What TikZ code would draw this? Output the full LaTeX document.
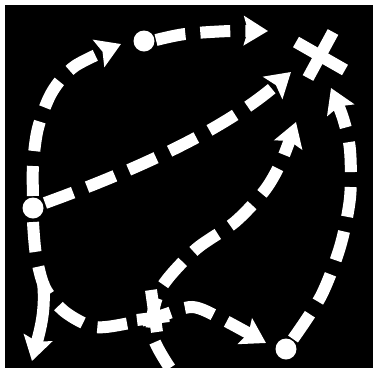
\documentclass[tikz,border=0pt]{standalone}
\usetikzlibrary{arrows.meta}
\begin{document}
\begin{tikzpicture}[x=1pt,y=-1pt,
  dline/.style={draw=white, line width=12pt, dash pattern=on 30pt off 15pt},
  sline/.style={draw=white, line width=12pt},
  tipped/.style={-{Stealth[length=24pt,width=29pt,inset=4pt]}},
  dot/.style={circle, fill=white, inner sep=0pt, minimum size=21pt},
  arm/.style={draw=white, line width=12pt}]
\useasboundingbox (0,0) rectangle (373,368);
\fill[white] (0,0) rectangle (373,368);
\fill[black] (5,5) rectangle (373,368);
% nodes
\node[dot] (t) at (144,41) {};
\node[dot] (l) at (33,208) {};
\node[dot] (b) at (286,349) {};
\coordinate (x) at (320,56);
\coordinate (c) at (155,316);
% cross marks
\draw[arm] ([shift={(-24,-14)}]x) -- ([shift={(25,14)}]x);
\draw[arm] ([shift={(13,-24)}]x) -- ([shift={(-12,22)}]x);
\draw[arm] ([shift={(-4,-26)}]c) -- ([shift={(2,16)}]c);
\draw[arm] ([shift={(-18,4)}]c) -- ([shift={(14,0)}]c);
% path A: left dot to top dot
\draw[dline,tipped] plot[smooth] coordinates {(33,196) (33,165) (38,128) (52,92) (75,66) (121,44)};
% path B: top dot to cross
\draw[dline,tipped] plot[smooth] coordinates {(156,40) (185,34) (230,31) (268,31)};
% path C: left dot to cross
\draw[dline,tipped] (45,203) .. controls (150,165) and (230,125) .. (291,72);
% path D: from bottom up to cross
\draw[dline,tipped] plot[smooth] coordinates {(170,368) (152,333) (160,290) (195,250) (235,222) (265,190) (282,160) (296,122)};
% path E: left dot round the bottom to bottom dot
\draw[dline,tipped] plot[smooth] coordinates {(33,222) (36,255) (45,288) (65,312) (95,327) (130,323) (160,316) (192,307) (220,318) (266,343)};
% fork arrow down-left
\draw[sline,tipped] (43,282) .. controls (46,310) and (40,330) .. (32,361);
% path F: bottom dot up to cross
\draw[dline,tipped] plot[smooth] coordinates {(293,339) (321,296) (340,247) (350,198) (350,150) (343,118) (331,88)};
\end{tikzpicture}
\end{document}
